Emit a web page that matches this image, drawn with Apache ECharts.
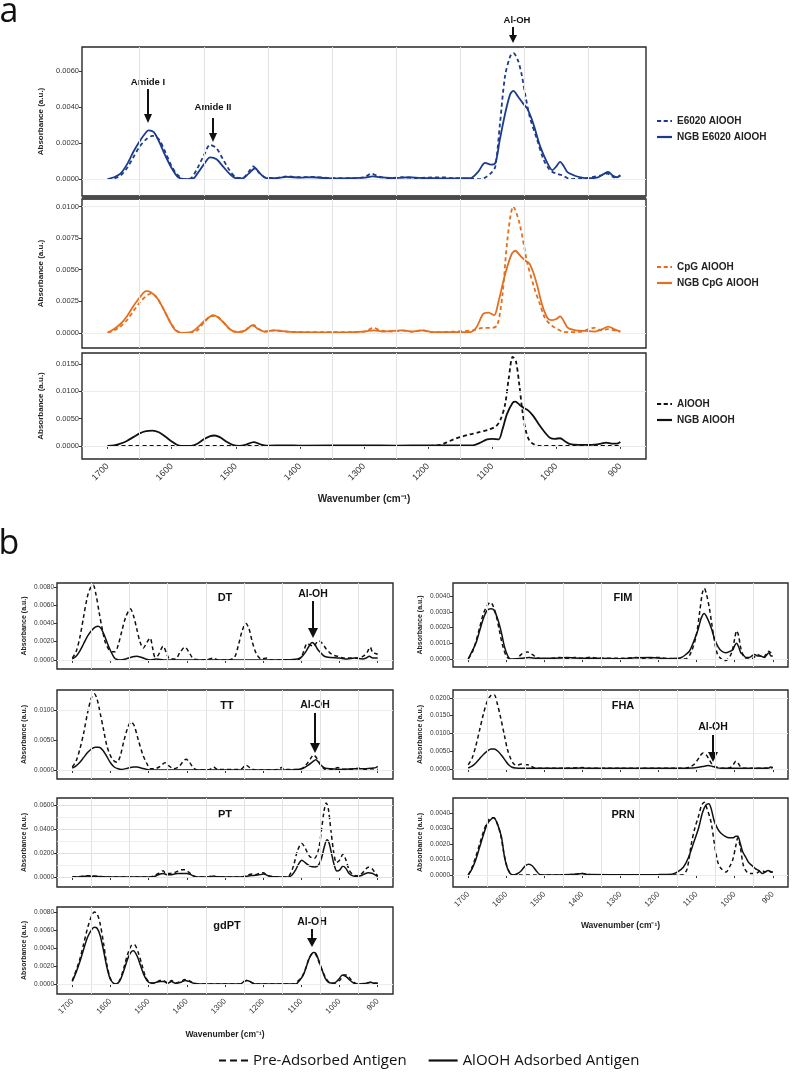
<!DOCTYPE html>
<html><head><meta charset="utf-8">
<script src="https://cdn.jsdelivr.net/npm/echarts@6/dist/echarts.min.js"></script>
<style>html,body{margin:0;padding:0;background:#fff}#c{width:797px;height:1073px}</style>
</head><body><div id="c"></div>
<script>
// ---------- axis values ----------
const X_TICKS = [900,1000,1100,1200,1300,1400,1500,1600,1700];
const X_GRID = [950,1050,1150,1250,1350,1450,1550,1650];
const ticksA0 = [0,0.002,0.004,0.006], minorA0 = [0.001,0.003,0.005,0.007];
const ticksA1 = [0,0.0025,0.005,0.0075,0.01], minorA1 = [0.00125,0.00375,0.00625,0.00875];
const ticksA2 = [0,0.005,0.01,0.015], minorA2 = [0.0025,0.0075,0.0125];
const ticksDT = [0,0.002,0.004,0.006,0.008], minorDT = [0.001,0.003,0.005,0.007];
const ticksTT = [0,0.005,0.01], minorTT = [0.0025,0.0075,0.0125];
const ticksPT = [0,0.02,0.04,0.06], minorPT = [0.01,0.03,0.05];
const ticksGD = [0,0.002,0.004,0.006,0.008], minorGD = [0.001,0.003,0.005,0.007];
const ticksFIM = [0,0.001,0.002,0.003,0.004], minorFIM = [0.0005,0.0015,0.0025,0.0035,0.0045];
const ticksFHA = [0,0.005,0.01,0.015,0.02], minorFHA = [-0.0025,0.0025,0.0075,0.0125,0.0175];
const ticksPRN = [0,0.001,0.002,0.003,0.004], minorPRN = [0.0005,0.0015,0.0025,0.0035,0.0045];

// ---------- series data: [wavenumber, absorbance] ----------
const e6020Pre = [[1700,0],[1690,0.00003],[1680,0.0002],[1670,0.0006],[1660,0.0012],[1650,0.0018],[1640,0.0022],[1630,0.0024],[1620,0.0022],[1610,0.0015],[1600,0.0007],[1590,0.0002],[1580,0],[1570,0.00005],[1560,0.0006],[1550,0.0013],[1540,0.0019],[1530,0.0017],[1520,0.0011],[1510,0.0005],[1500,0.0001],[1490,0.00005],[1480,0.0004],[1473,0.0007],[1465,0.0004],[1455,0.0001],[1440,0.00005],[1420,0.00015],[1400,0.0001],[1380,0.00012],[1350,0.00005],[1320,0.00005],[1300,0.0001],[1288,0.0003],[1278,0.00015],[1260,0.00005],[1240,0.0001],[1220,0.00005],[1200,0.00008],[1180,0.0001],[1160,0.00005],[1140,0.00002],[1120,0],[1110,0.0001],[1100,0.0004],[1095,0.0007],[1088,0.0030],[1080,0.0057],[1072,0.0068],[1067,0.0070],[1060,0.0066],[1054,0.0058],[1048,0.0046],[1041,0.0034],[1030,0.0022],[1020,0.0011],[1010,0.0005],[1000,0.0003],[990,0.0002],[978,0],[960,0.00002],[945,0.0001],[930,0.0002],[920,0.0003],[910,0.0001],[900,0.0002]];
const e6020Ngb = [[1700,0],[1690,0.0001],[1680,0.0003],[1670,0.0008],[1660,0.0015],[1650,0.0021],[1640,0.0026],[1636,0.0027],[1628,0.0026],[1620,0.0021],[1610,0.0013],[1600,0.0006],[1590,0.0001],[1580,0],[1567,0.00002],[1560,0.0003],[1550,0.0008],[1540,0.0012],[1530,0.0011],[1520,0.0007],[1510,0.0003],[1500,0.00005],[1490,0.00003],[1480,0.0003],[1470,0.0006],[1462,0.0003],[1452,0.00005],[1440,0.00005],[1420,0.00012],[1400,0.00008],[1380,0.0001],[1360,0.00005],[1340,0.00003],[1320,0.00005],[1300,0.00008],[1286,0.00015],[1275,0.0001],[1250,0.00005],[1230,0.0001],[1210,0.00005],[1190,0.00005],[1170,0.00003],[1150,0.00005],[1134,0.00005],[1122,0.0004],[1111,0.0009],[1102,0.0008],[1095,0.0009],[1088,0.0022],[1080,0.0036],[1072,0.0047],[1067,0.0049],[1060,0.0046],[1052,0.0042],[1045,0.0039],[1036,0.0031],[1025,0.0018],[1014,0.0009],[1006,0.0005],[1000,0.0007],[994,0.00095],[988,0.0007],[983,0.0004],[972,0.0002],[962,0.0001],[950,0.00005],[935,0.0001],[925,0.0003],[919,0.0004],[912,0.0002],[905,0.0001],[900,0.0002]];
const cpgPre = [[1700,0],[1690,0.0002],[1680,0.0005],[1670,0.001],[1660,0.0017],[1650,0.0024],[1640,0.0029],[1633,0.0031],[1625,0.0029],[1615,0.0021],[1605,0.0011],[1595,0.0003],[1585,0],[1570,0],[1560,0.0002],[1550,0.0008],[1540,0.0013],[1532,0.00135],[1522,0.001],[1512,0.0004],[1503,0.0001],[1490,0.0001],[1480,0.0004],[1472,0.0006],[1464,0.0003],[1455,0.0001],[1440,0.0002],[1420,0.0001],[1400,0.00005],[1350,0.00005],[1300,0.0001],[1285,0.0004],[1275,0.0002],[1255,0.0001],[1240,0.0002],[1225,0.0001],[1209,0.0002],[1195,0.00005],[1160,0.0001],[1130,0.0002],[1114,0.0004],[1100,0.0004],[1092,0.0006],[1084,0.0030],[1076,0.0075],[1067,0.0100],[1058,0.0088],[1050,0.0068],[1045,0.0055],[1034,0.0035],[1025,0.0022],[1018,0.0012],[1010,0.0007],[1002,0.0004],[990,0.0001],[980,0.00005],[960,0.0001],[950,0.0003],[940,0.0004],[930,0.0002],[920,0.0003],[910,0.0002],[900,0.0001]];
const cpgNgb = [[1700,0],[1690,0.0003],[1680,0.0007],[1670,0.0013],[1660,0.0021],[1650,0.0028],[1640,0.0033],[1632,0.0032],[1622,0.0027],[1612,0.0018],[1602,0.0008],[1594,0.0002],[1585,0],[1570,0.00005],[1560,0.0004],[1550,0.0009],[1540,0.0013],[1535,0.0014],[1527,0.0012],[1517,0.0007],[1507,0.0002],[1497,0.00005],[1485,0.0002],[1474,0.0006],[1465,0.0003],[1455,0.0001],[1440,0.0002],[1420,0.0001],[1400,0.00005],[1350,0.00003],[1300,0.0001],[1285,0.0002],[1270,0.0001],[1241,0.0002],[1225,0.0001],[1209,0.0002],[1190,0.00005],[1160,0.00005],[1135,0.00005],[1125,0.0004],[1114,0.0015],[1106,0.0016],[1097,0.0014],[1090,0.0025],[1080,0.0046],[1070,0.0062],[1064,0.0065],[1056,0.0061],[1048,0.0057],[1042,0.0055],[1036,0.0048],[1030,0.0038],[1022,0.0022],[1014,0.0012],[1008,0.001],[1000,0.0011],[994,0.0013],[988,0.0009],[982,0.0004],[970,0.0002],[955,0.00015],[940,0.0001],[928,0.0003],[919,0.0005],[910,0.0003],[900,0.0001]];
const aloohPre = [[1700,0],[1600,0],[1500,0],[1400,0],[1300,0],[1200,0],[1180,0.0002],[1172,0.0006],[1160,0.0012],[1150,0.0016],[1135,0.0021],[1120,0.0025],[1105,0.003],[1094,0.0036],[1087,0.0048],[1080,0.0075],[1074,0.0125],[1068,0.0163],[1063,0.0155],[1058,0.0115],[1053,0.0065],[1048,0.0030],[1042,0.0010],[1035,0.0003],[1025,0],[900,0]];
const aloohNgb = [[1700,0],[1690,0.0001],[1680,0.0004],[1670,0.0009],[1660,0.0016],[1650,0.0023],[1640,0.0027],[1630,0.0028],[1620,0.0025],[1610,0.0017],[1600,0.0008],[1592,0.0002],[1585,0],[1570,0],[1560,0.0004],[1550,0.0012],[1540,0.0018],[1533,0.0019],[1525,0.0016],[1515,0.0008],[1505,0.0002],[1495,0],[1485,0.0002],[1472,0.0007],[1462,0.0003],[1452,0.00005],[1420,0.0001],[1400,0.00005],[1300,0.0001],[1250,0.00005],[1200,0.0001],[1150,0.0001],[1130,0.0001],[1120,0.0005],[1108,0.0012],[1100,0.0013],[1090,0.0012],[1084,0.0030],[1077,0.0058],[1068,0.0079],[1064,0.0081],[1057,0.0075],[1050,0.0069],[1044,0.0065],[1036,0.0055],[1027,0.0039],[1018,0.0025],[1010,0.0015],[1002,0.0013],[994,0.0014],[986,0.0008],[978,0.0003],[965,0.0002],[945,0.0002],[930,0.0004],[922,0.0006],[912,0.0004],[905,0.0004],[900,0.0007]];
const dtPre = [[1700,0.0002],[1690,0.0009],[1680,0.0025],[1670,0.0048],[1660,0.0070],[1650,0.0081],[1645,0.0082],[1638,0.0072],[1630,0.0053],[1622,0.0035],[1614,0.0020],[1605,0.0012],[1596,0.0009],[1588,0.0009],[1580,0.0016],[1570,0.0032],[1560,0.0047],[1548,0.0056],[1540,0.0049],[1530,0.0032],[1522,0.0019],[1514,0.0013],[1505,0.0019],[1496,0.0024],[1490,0.0014],[1483,0.0003],[1475,0.0005],[1462,0.0015],[1452,0.0006],[1445,0.0001],[1430,0.0001],[1418,0.0008],[1405,0.0014],[1395,0.0009],[1382,0.0001],[1360,0],[1340,0.0001],[1330,0.0002],[1320,0],[1290,0],[1275,0.0003],[1265,0.0016],[1255,0.0032],[1245,0.0040],[1237,0.0034],[1228,0.0019],[1218,0.0007],[1205,0.0001],[1190,0.0002],[1180,0],[1110,0],[1100,0.0003],[1092,0.0012],[1085,0.0018],[1076,0.0016],[1068,0.0015],[1060,0.0019],[1054,0.0021],[1045,0.0018],[1035,0.0012],[1026,0.0008],[1015,0.0005],[1005,0.0004],[990,0.0002],[970,0.0002],[950,0.0002],[938,0.0004],[928,0.0008],[920,0.0014],[913,0.0008],[906,0.0007],[900,0.0006]];
const dtAds = [[1700,0.0001],[1690,0.0004],[1680,0.0010],[1670,0.0018],[1660,0.0026],[1650,0.0032],[1640,0.0036],[1632,0.0037],[1624,0.0034],[1615,0.0026],[1605,0.0015],[1595,0.0006],[1587,0.0001],[1575,0],[1560,0.0001],[1545,0.0003],[1532,0.0004],[1520,0.0003],[1508,0.0001],[1495,0],[1480,0.0001],[1460,0],[1300,0],[1150,0],[1110,0.0001],[1100,0.0003],[1090,0.0008],[1080,0.0015],[1072,0.0019],[1065,0.0017],[1058,0.0012],[1050,0.0008],[1040,0.0004],[1030,0.0003],[1000,0.0002],[980,0.0001],[960,0.0002],[940,0.0001],[930,0.0002],[922,0.0004],[913,0.0002],[905,0.0002],[900,0.0002]];
const ttPre = [[1700,0.0005],[1690,0.0015],[1680,0.0035],[1670,0.0062],[1660,0.0095],[1650,0.0120],[1642,0.0127],[1635,0.0118],[1627,0.0095],[1618,0.0067],[1610,0.0042],[1601,0.0025],[1592,0.0016],[1583,0.0013],[1575,0.0022],[1565,0.0048],[1555,0.0070],[1546,0.0080],[1538,0.0074],[1527,0.0050],[1515,0.0025],[1504,0.0010],[1495,0.0002],[1485,0.0002],[1470,0.0006],[1457,0.0012],[1447,0.0007],[1435,0.0002],[1420,0.0006],[1410,0.0014],[1402,0.0018],[1393,0.0013],[1382,0.0003],[1370,0],[1340,0.0001],[1330,0.0005],[1320,0.0001],[1260,0.0001],[1245,0.0008],[1235,0.0004],[1220,0],[1160,0.0001],[1152,0.0004],[1145,0.0001],[1105,0.0001],[1095,0.0004],[1086,0.0010],[1076,0.0019],[1068,0.0025],[1060,0.0020],[1050,0.0009],[1040,0.0002],[1030,0],[1015,0.0001],[1005,0.0004],[995,0.0002],[980,0.0001],[960,0.0002],[950,0.0003],[930,0.0001],[915,0.0002],[900,0.0001]];
const ttAds = [[1700,0.0003],[1690,0.0007],[1680,0.0013],[1670,0.0021],[1660,0.0029],[1650,0.0035],[1640,0.0038],[1630,0.0038],[1620,0.0033],[1610,0.0023],[1600,0.0012],[1590,0.0005],[1580,0.0002],[1570,0.0001],[1555,0.0003],[1540,0.0005],[1530,0.0005],[1518,0.0003],[1505,0.0001],[1490,0],[1300,0],[1150,0],[1110,0.0001],[1095,0.0003],[1082,0.0008],[1070,0.0014],[1062,0.0017],[1055,0.0013],[1047,0.0007],[1037,0.0003],[1020,0.0002],[990,0.0001],[960,0.0002],[930,0.0002],[915,0.0003],[905,0.0004],[900,0.0006]];
const ptPre = [[1700,0],[1680,0.0005],[1660,0.001],[1645,0.0008],[1620,0.0003],[1600,0],[1500,0],[1485,0.001],[1470,0.004],[1462,0.0052],[1455,0.003],[1445,0.003],[1430,0.004],[1415,0.006],[1405,0.006],[1395,0.004],[1385,0.0015],[1375,0.0003],[1345,0],[1335,0.001],[1325,0.0002],[1260,0],[1245,0.001],[1230,0.0025],[1220,0.002],[1210,0.003],[1200,0.0035],[1190,0.0015],[1175,0.0003],[1140,0],[1130,0.002],[1120,0.010],[1110,0.022],[1099,0.028],[1090,0.024],[1078,0.017],[1066,0.0155],[1055,0.023],[1047,0.040],[1040,0.056],[1035,0.0617],[1030,0.058],[1023,0.040],[1015,0.020],[1008,0.012],[1000,0.014],[991,0.019],[983,0.014],[975,0.006],[965,0.002],[955,0.001],[945,0.002],[935,0.005],[925,0.0082],[915,0.007],[908,0.004],[900,0.001]];
const ptAds = [[1700,0],[1680,0.0003],[1660,0.0008],[1645,0.0006],[1620,0.0002],[1600,0],[1500,0],[1485,0.0005],[1470,0.0025],[1462,0.003],[1452,0.002],[1440,0.002],[1425,0.003],[1415,0.003],[1400,0.003],[1390,0.002],[1380,0.0005],[1365,0],[1340,0],[1330,0.0008],[1320,0.0002],[1260,0],[1245,0.0005],[1232,0.0012],[1220,0.0015],[1208,0.002],[1198,0.0025],[1188,0.0012],[1175,0.0002],[1135,0],[1125,0.0015],[1115,0.006],[1107,0.011],[1099,0.014],[1090,0.012],[1078,0.0092],[1065,0.0083],[1055,0.010],[1047,0.016],[1040,0.025],[1033,0.031],[1027,0.028],[1020,0.018],[1013,0.009],[1007,0.005],[999,0.006],[991,0.0092],[983,0.007],[975,0.003],[965,0.001],[955,0.0005],[945,0.001],[935,0.0025],[925,0.0035],[915,0.0032],[908,0.002],[900,0.0003]];
const gdptPre = [[1700,0.0004],[1690,0.0015],[1680,0.0028],[1670,0.0045],[1660,0.0062],[1650,0.0075],[1642,0.0080],[1635,0.0078],[1627,0.0067],[1618,0.0045],[1610,0.0023],[1601,0.0007],[1592,0.0001],[1585,0],[1575,0.0005],[1565,0.0018],[1555,0.0033],[1545,0.0043],[1538,0.0044],[1528,0.0036],[1518,0.0022],[1508,0.0008],[1498,0.0002],[1485,0.0001],[1470,0.0004],[1462,0.0004],[1450,0.0001],[1440,0.0004],[1430,0.0001],[1415,0.0003],[1405,0.0005],[1395,0.0004],[1382,0.0001],[1360,0],[1260,0],[1250,0.0003],[1243,0.0004],[1235,0.0003],[1220,0],[1120,0],[1110,0.0003],[1100,0.0007],[1090,0.0016],[1080,0.0028],[1070,0.0034],[1065,0.0034],[1058,0.0029],[1050,0.0020],[1042,0.0012],[1035,0.0006],[1027,0.0002],[1015,0.0001],[1000,0.0004],[988,0.0010],[980,0.0010],[972,0.0006],[962,0.0002],[950,0],[930,0.0001],[918,0.0002],[910,0.0001],[900,0.0001]];
const gdptAds = [[1700,0.0003],[1690,0.0013],[1680,0.0025],[1670,0.0039],[1660,0.0052],[1650,0.0060],[1642,0.0063],[1635,0.0062],[1627,0.0054],[1618,0.0037],[1610,0.0020],[1601,0.0006],[1592,0.0001],[1585,0],[1575,0.0004],[1565,0.0015],[1555,0.0028],[1547,0.0035],[1540,0.0037],[1530,0.0031],[1520,0.0019],[1510,0.0008],[1500,0.0002],[1490,0.0001],[1470,0.0003],[1460,0.0003],[1450,0.0001],[1440,0.0003],[1430,0.0001],[1415,0.0002],[1404,0.0004],[1395,0.0003],[1382,0.0001],[1360,0],[1260,0],[1250,0.0003],[1243,0.0004],[1235,0.0003],[1220,0],[1115,0],[1105,0.0004],[1095,0.0010],[1088,0.0018],[1078,0.0030],[1068,0.0035],[1062,0.0034],[1055,0.0027],[1046,0.0016],[1038,0.0007],[1029,0.0002],[1015,0.0001],[1003,0.0005],[992,0.0010],[982,0.0008],[972,0.0004],[962,0.0001],[950,0],[930,0.0001],[918,0.0002],[910,0.0001],[900,0.0001]];
const fimPre = [[1700,0.00003],[1690,0.0004],[1680,0.0011],[1670,0.0020],[1660,0.0029],[1650,0.0034],[1642,0.0036],[1635,0.0034],[1627,0.0028],[1618,0.0018],[1610,0.0009],[1600,0.0002],[1590,0],[1575,0],[1565,0.0002],[1555,0.0004],[1544,0.00045],[1532,0.0003],[1520,0.0001],[1505,0],[1480,0.00005],[1460,0.0001],[1440,0.00005],[1420,0.0001],[1400,0.00005],[1380,0.00012],[1360,0.00005],[1300,0.00005],[1260,0.0001],[1240,0.00005],[1200,0.0001],[1180,0.00005],[1140,0],[1127,0.00003],[1115,0.0004],[1101,0.0015],[1092,0.0030],[1085,0.0042],[1080,0.0045],[1074,0.0041],[1067,0.0033],[1060,0.0022],[1052,0.0010],[1045,0.0003],[1035,0],[1028,-0.0001],[1018,0],[1008,0.0004],[1000,0.0013],[995,0.0018],[990,0.0015],[984,0.0007],[977,0.0002],[968,0],[958,0],[950,0.0001],[940,0.0003],[933,0.0002],[925,0.0001],[918,0.0003],[911,0.0005],[905,0.0004],[900,0.0003]];
const fimAds = [[1700,0],[1690,0.0005],[1680,0.0010],[1670,0.0018],[1660,0.0026],[1650,0.0031],[1640,0.0032],[1632,0.0031],[1622,0.0025],[1613,0.0017],[1605,0.0008],[1596,0.0002],[1588,0],[1560,0.00005],[1540,0.0001],[1520,0.00005],[1480,0.00005],[1440,0.0001],[1400,0.00005],[1360,0.00005],[1300,0.00003],[1260,0.00008],[1220,0.0001],[1180,0.00003],[1150,0.00005],[1140,0.0001],[1128,0.0003],[1119,0.0005],[1108,0.0011],[1096,0.0019],[1088,0.0026],[1080,0.0029],[1072,0.0026],[1062,0.0020],[1053,0.0013],[1044,0.0008],[1034,0.0005],[1023,0.0004],[1012,0.0005],[1005,0.0006],[999,0.0009],[995,0.0010],[990,0.0008],[984,0.0004],[979,0.0003],[970,0.0001],[963,0.0001],[955,0.0002],[948,0.0003],[940,0.0002],[932,0.0002],[922,0.0001],[915,0.0003],[910,0.0004],[905,0.0002],[900,0.0002]];
const fhaPre = [[1700,0.0012],[1690,0.003],[1680,0.0065],[1670,0.011],[1660,0.0155],[1650,0.019],[1640,0.0207],[1632,0.0209],[1624,0.0185],[1615,0.0145],[1605,0.0095],[1597,0.0055],[1588,0.0028],[1580,0.0014],[1572,0.0010],[1565,0.0013],[1557,0.0014],[1548,0.0012],[1539,0.0011],[1530,0.0005],[1520,0.0002],[1480,0.0002],[1450,0.0002],[1400,0.0004],[1385,0.0002],[1300,0.0002],[1250,0.0002],[1200,0.0002],[1160,0.0002],[1130,0.0002],[1118,0.0006],[1108,0.0012],[1098,0.0025],[1090,0.0038],[1083,0.0045],[1075,0.0040],[1068,0.0028],[1060,0.0014],[1052,0.0007],[1040,0.0003],[1025,0.0002],[1010,0.0005],[1002,0.0015],[997,0.0022],[991,0.0016],[984,0.0006],[975,0.0002],[950,0.0002],[930,0.0002],[915,0.0003],[905,0.0003],[900,0.0004]];
const fhaAds = [[1700,0.0003],[1690,0.0008],[1680,0.0017],[1670,0.0029],[1660,0.0041],[1650,0.0050],[1640,0.0056],[1632,0.0056],[1622,0.0050],[1612,0.0038],[1602,0.0023],[1594,0.0012],[1585,0.0005],[1575,0.0003],[1560,0.0002],[1520,0.0002],[1450,0.0002],[1400,0.0003],[1380,0.0002],[1300,0.0002],[1250,0.0002],[1150,0.0002],[1110,0.0003],[1095,0.0005],[1080,0.0008],[1070,0.0010],[1060,0.0008],[1048,0.0004],[1035,0.0002],[1000,0.0002],[970,0.0002],[940,0.0002],[920,0.0002],[910,0.0003],[905,0.0006],[900,0.0004]];
const prnPre = [[1700,0],[1690,0.0005],[1680,0.0012],[1670,0.0020],[1660,0.0028],[1650,0.0034],[1640,0.0037],[1633,0.0037],[1625,0.0034],[1615,0.0026],[1607,0.0015],[1600,0.0007],[1592,0.0002],[1585,0],[1560,0],[1520,0],[1450,0],[1420,0.00005],[1400,0.0001],[1380,0.00003],[1300,0],[1200,0],[1150,0],[1135,0.00003],[1125,0.0004],[1114,0.0020],[1105,0.0030],[1095,0.0038],[1087,0.0045],[1080,0.0047],[1073,0.0043],[1062,0.0034],[1052,0.0018],[1044,0.0008],[1035,0.0004],[1023,0.0002],[1012,0.0006],[1005,0.0010],[997,0.0019],[992,0.0024],[986,0.0019],[977,0.0006],[968,0.0002],[960,0.0001],[945,0.0001],[930,0.0003],[920,0.0002],[910,0.0003],[905,0.0002],[900,0.0002]];
const prnAds = [[1700,0],[1690,0.0004],[1680,0.0010],[1670,0.0018],[1660,0.0026],[1650,0.0033],[1640,0.0036],[1633,0.0037],[1625,0.0034],[1613,0.0025],[1605,0.0012],[1598,0.0005],[1590,0.0001],[1580,0],[1570,0.0001],[1560,0.0003],[1550,0.0006],[1541,0.0007],[1532,0.0006],[1522,0.0003],[1513,0.00005],[1500,0],[1450,0.00002],[1420,0.00005],[1400,0.0001],[1385,0.00003],[1300,0.00002],[1200,0.00003],[1165,0.00005],[1150,0.0002],[1135,0.0005],[1122,0.0011],[1109,0.0020],[1094,0.0031],[1085,0.0040],[1076,0.0045],[1068,0.0046],[1062,0.0043],[1054,0.0035],[1045,0.0030],[1036,0.0027],[1025,0.0025],[1015,0.0024],[1005,0.0024],[997,0.0025],[992,0.0025],[985,0.0020],[979,0.0015],[970,0.0011],[963,0.0008],[954,0.0006],[945,0.0004],[937,0.0003],[927,0.0001],[920,0.0002],[912,0.0003],[905,0.0002],[900,0.0002]];

const PRE_B = 'Pre-Adsorbed Antigen', ADS_B = 'AlOOH Adsorbed Antigen';

// ---------- layout ----------
const panels = [
 {pre:e6020Pre, post:e6020Ngb, preName:'E6020 AlOOH', postName:'NGB E6020 AlOOH', color:'#1c3b8c', y:[-0.00094,0.00733], ticks:ticksA0, minor:minorA0, g:[82,47,564,149], xt:false, xl:false, a:true},
 {pre:cpgPre, post:cpgNgb, preName:'CpG AlOOH', postName:'NGB CpG AlOOH', color:'#e36f1e', y:[-0.0012,0.0106], ticks:ticksA1, minor:minorA1, g:[82,199,564,149], xt:false, xl:false, a:true},
 {pre:aloohPre, post:aloohNgb, preName:'AlOOH', postName:'NGB AlOOH', color:'#111111', y:[-0.0024,0.017], ticks:ticksA2, minor:minorA2, g:[82,353,564,106], xt:true, xl:true, a:true, xName:'Wavenumber (cm\u207B\u00B9)', xGap:35},
 {pre:dtPre, post:dtAds, preName:PRE_B, postName:ADS_B, color:'#111111', y:[-0.001,0.00844], ticks:ticksDT, minor:minorDT, g:[57,583,336,86], xt:true, xl:false},
 {pre:ttPre, post:ttAds, preName:PRE_B, postName:ADS_B, color:'#111111', y:[-0.0015,0.01333], ticks:ticksTT, minor:minorTT, g:[57,690,336,89], xt:true, xl:false},
 {pre:ptPre, post:ptAds, preName:PRE_B, postName:ADS_B, color:'#111111', y:[-0.0083,0.0658], ticks:ticksPT, minor:minorPT, g:[57,798,336,89], xt:true, xl:false},
 {pre:gdptPre, post:gdptAds, preName:PRE_B, postName:ADS_B, color:'#111111', y:[-0.0011,0.00856], ticks:ticksGD, minor:minorGD, g:[57,907,336,87], xt:true, xl:true, xName:'Wavenumber (cm\u207B\u00B9)', xGap:36},
 {pre:fimPre, post:fimAds, preName:PRE_B, postName:ADS_B, color:'#111111', y:[-0.0005,0.00483], ticks:ticksFIM, minor:minorFIM, g:[453,583,335,84], xt:true, xl:false},
 {pre:fhaPre, post:fhaAds, preName:PRE_B, postName:ADS_B, color:'#111111', y:[-0.0028,0.0222], ticks:ticksFHA, minor:minorFHA, g:[453,690,335,89], xt:true, xl:false},
 {pre:prnPre, post:prnAds, preName:PRE_B, postName:ADS_B, color:'#111111', y:[-0.00077,0.00497], ticks:ticksPRN, minor:minorPRN, g:[453,798,335,89], xt:true, xl:true, xName:'Wavenumber (cm\u207B\u00B9)', xGap:34}
];

const FONT = 'Liberation Sans, Arial, sans-serif';
const grids = [], xAxes = [], yAxes = [], series = [];
panels.forEach((p, i) => {
  const big = !!p.a;
  grids.push({left:p.g[0], top:p.g[1], width:p.g[2], height:p.g[3], show:true, borderColor:'#2a2a2a', borderWidth:1.4, backgroundColor:'#fff', containLabel:false});
  xAxes.push({gridIndex:i, type:'value', inverse:true, min:860, max:1740,
    axisLine:{show:false}, splitLine:{show:false},
    axisTick:{show:p.xt, customValues:X_TICKS, length:3, lineStyle:{color:'#333', width:1}},
    axisLabel:{show:p.xl, customValues:X_TICKS, formatter:v => String(v), rotate:45, fontSize: big?9:8, color:'#333', margin:6, fontFamily:FONT},
    name:p.xName||'', nameLocation:'middle', nameGap:p.xGap||30,
    nameTextStyle:{fontSize: big?10:8.5, fontWeight:'bold', color:'#222', fontFamily:FONT}});
  yAxes.push({gridIndex:i, type:'value', min:p.y[0], max:p.y[1],
    axisLine:{show:false}, splitLine:{show:false},
    axisTick:{show:true, customValues:p.ticks, length:3, lineStyle:{color:'#333', width:1}},
    axisLabel:{customValues:p.ticks, formatter:v => v.toFixed(4), fontSize: big?7.5:6.5, color:'#333', margin:3, fontFamily:FONT},
    name:'Absorbance (a.u.)', nameLocation:'middle', nameGap: big?33:29,
    nameTextStyle:{fontSize: big?8:7, fontWeight:'bold', color:'#222', fontFamily:FONT}});
  const gl = [];
  X_GRID.forEach(v => gl.push({xAxis:v, lineStyle:{color:'#e2e2e2', width:1}}));
  p.ticks.forEach(v => gl.push({yAxis:v, lineStyle:{color:'#e2e2e2', width:1}}));
  p.minor.filter(v => v > p.y[0] && v < p.y[1]).forEach(v => gl.push({yAxis:v, lineStyle:{color:'#ececec', width:0.8}}));
  series.push({type:'line', xAxisIndex:i, yAxisIndex:i, data:[], silent:true, z:1, symbol:'none',
    markLine:{silent:true, symbol:'none', animation:false, label:{show:false}, lineStyle:{type:'solid'}, emphasis:{disabled:true}, data:gl}});
  const lw = big ? 1.8 : 1.5;
  series.push({type:'line', name:p.postName, xAxisIndex:i, yAxisIndex:i, data:p.post, symbol:'none', smooth:0.3, z:3, silent:true,
    lineStyle:{color:p.color, width:lw, type:'solid'}, itemStyle:{color:p.color}});
  series.push({type:'line', name:p.preName, xAxisIndex:i, yAxisIndex:i, data:p.pre, symbol:'none', smooth:0.3, z:4, silent:true,
    lineStyle:{color:p.color, width:lw, type:[4,3]}, itemStyle:{color:p.color}});
});

const ICON_SOLID = 'path://M0,0H28V2H0Z';
const ICON_DASH_A = 'path://M0,0H5V2H0Z M8,0H13V2H8Z M16,0H18V2H16Z';
const ICON_DASH_B = 'path://M0,0H7V2H0Z M11,0H18V2H11Z M22,0H29V2H22Z';
const legA = (dash, solid, top) => ({orient:'vertical', left:652, top:top, itemWidth:15, itemHeight:2.2, itemGap:6,
  symbolKeepAspect:false,
  data:[{name:dash, icon:ICON_DASH_A}, {name:solid, icon:ICON_SOLID}], selectedMode:false,
  itemStyle:{borderWidth:0},
  textStyle:{fontSize:10, fontWeight:'bold', color:'#222', fontFamily:FONT}});

// annotations
function arrow(x, y1, y2, w, h) {
  return [{type:'line', shape:{x1:x, y1:y1, x2:x, y2:y2-h+1}, style:{stroke:'#111', lineWidth:2}, silent:true},
          {type:'polygon', shape:{points:[[x-w/2, y2-h],[x+w/2, y2-h],[x, y2]]}, style:{fill:'#111'}, silent:true}];
}
function txt(x, y, s, size, font) {
  return {type:'text', x:x, y:y, silent:true, style:{text:s, fontSize:size, fontWeight: font ? 'normal' : 'bold', fontFamily: font || FONT, fill:'#111', align:'center', verticalAlign:'middle'}};
}
const graphics = [
  {type:'rect', shape:{x:82, y:195.5, width:564, height:4}, style:{fill:'#4a4a4a'}, silent:true},
  txt(9, 12, 'a', 34, 'Open Sans'),
  txt(9, 544, 'b', 34, 'Open Sans'),
  txt(148, 82, 'Amide I', 9.5), ...arrow(148, 89, 123, 8, 9),
  txt(213, 107, 'Amide II', 9.5), ...arrow(213, 118, 142, 8, 9),
  txt(517, 20, 'Al-OH', 9.5), ...arrow(513, 27, 43, 8, 8),
  txt(225, 598, 'DT', 11), txt(313, 594, 'Al-OH', 10.5), ...arrow(313, 601, 638, 10, 10),
  txt(227, 706, 'TT', 11), txt(315, 705, 'Al-OH', 10.5), ...arrow(315, 713, 753, 10, 10),
  txt(225, 815, 'PT', 11),
  txt(227, 926, 'gdPT', 11), txt(312, 922, 'Al-OH', 10.5), ...arrow(312, 929, 947, 10, 9),
  txt(623, 598, 'FIM', 11),
  txt(623, 706, 'FHA', 11), txt(713, 727, 'Al-OH', 10.5), ...arrow(713, 735, 762, 10, 10),
  txt(623, 815, 'PRN', 11)
];

const chart = echarts.init(document.getElementById('c'));
chart.setOption({
  animation:false,
  backgroundColor:'#fff',
  grid:grids, xAxis:xAxes, yAxis:yAxes, series:series,
  legend:[
    legA('E6020 AlOOH','NGB E6020 AlOOH', 111),
    legA('CpG AlOOH','NGB CpG AlOOH', 257),
    legA('AlOOH','NGB AlOOH', 394),
    {orient:'horizontal', left:214, top:1048, itemWidth:29, itemHeight:2.2, itemGap:22,
     symbolKeepAspect:false,
     data:[{name:PRE_B, icon:ICON_DASH_B}, {name:ADS_B, icon:ICON_SOLID}], selectedMode:false,
     itemStyle:{borderWidth:0},
     textStyle:{fontSize:15, color:'#111', fontFamily:'Open Sans, sans-serif'}}
  ],
  graphic:graphics
});
</script></body></html>
